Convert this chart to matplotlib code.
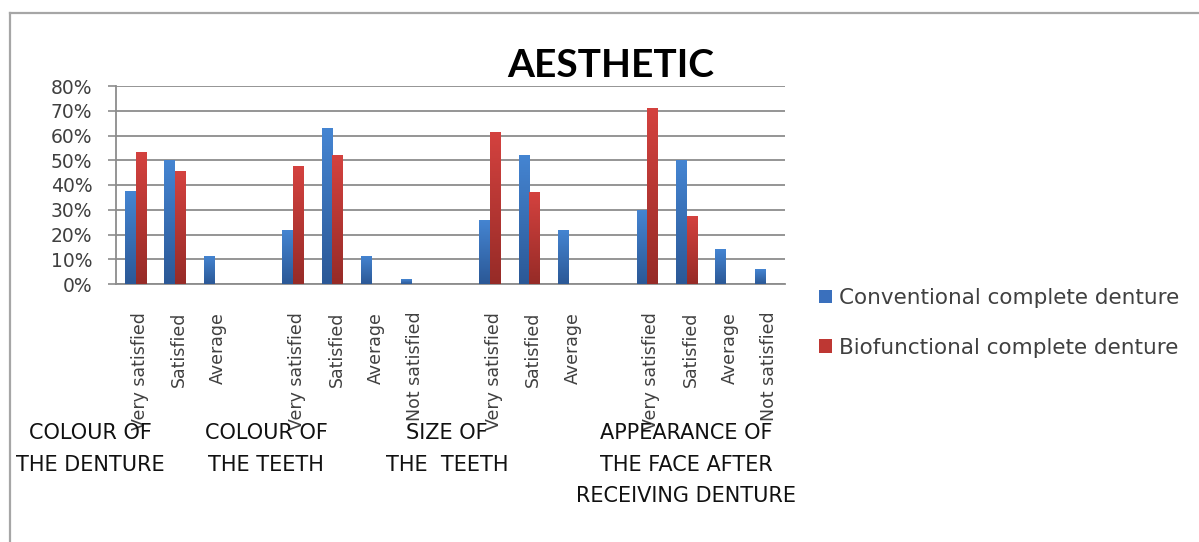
import matplotlib
matplotlib.use("Agg")
import matplotlib.pyplot as plt
import numpy as np
from matplotlib.colors import LinearSegmentedColormap
from matplotlib.patches import Patch
from matplotlib.lines import Line2D

# ---------------- data ----------------
title = "AESTHETIC"
series_names = ["Conventional complete denture", "Biofunctional complete denture"]
groups = ["COLOUR OF\nTHE DENTURE", "COLOUR OF\nTHE TEETH", "SIZE OF\nTHE  TEETH",
          "APPEARANCE OF\nTHE FACE AFTER\nRECEIVING DENTURE"]
group_cats = [
    ["Very satisfied", "Satisfied", "Average"],
    ["Very satisfied", "Satisfied", "Average", "Not satisfied"],
    ["Very satisfied", "Satisfied", "Average"],
    ["Very satisfied", "Satisfied", "Average", "Not satisfied"],
]
conventional = [[37.5, 50, 11.5], [22, 63, 11.5, 2], [26, 52, 22], [30, 50, 14, 6]]
biofunctional = [[53.5, 45.5, 0], [47.5, 52, 0, 0], [61.5, 37, 0], [71, 27.5, 0, 0]]
yticks = [0, 10, 20, 30, 40, 50, 60, 70, 80]

# ---------------- layout ----------------
W, H = 1199, 542
fig = plt.figure(figsize=(W / 100, H / 100), dpi=100)
ax = fig.add_axes([116 / W, 1 - 284 / H, (785 - 116) / W, (284 - 86) / H])

# slot positions: one blank slot between groups
positions, labels, conv_vals, bio_vals = [], [], [], []
pos = 0
for cats, cv, bv in zip(group_cats, conventional, biofunctional):
    for c, a, b in zip(cats, cv, bv):
        positions.append(pos)
        labels.append(c)
        conv_vals.append(a)
        bio_vals.append(b)
        pos += 1
    pos += 1
positions = np.array(positions)

bw = 0.27
cmap_blue = LinearSegmentedColormap.from_list("b", ["#2b5896", "#4585d2"])
cmap_red = LinearSegmentedColormap.from_list("r", ["#962b27", "#d4423f"])
grad = np.linspace(0, 1, 256).reshape(-1, 1)

bars_c = ax.bar(positions - bw / 2, conv_vals, width=bw, color="#3a70bd", zorder=3, linewidth=0)
bars_b = ax.bar(positions + bw / 2, bio_vals, width=bw, color="#be3733", zorder=3, linewidth=0)
for bars, cm in ((bars_c, cmap_blue), (bars_b, cmap_red)):
    for bar in bars:
        h = bar.get_height()
        if h <= 0:
            continue
        x0 = bar.get_x()
        im = ax.imshow(grad, extent=[x0, x0 + bar.get_width(), 0, h], origin="lower",
                       aspect="auto", cmap=cm, zorder=4, interpolation="bilinear")
        im.set_clip_path(bar)

ax.set_xlim(-0.5, positions[-1] + 0.5)
ax.set_ylim(0, 80)
ax.set_yticks(yticks)
ax.set_yticklabels([f"{v}%" for v in yticks], fontsize=13.5, color="#404040")
ax.set_xticks(positions + 0.1)
ax.set_xticklabels(labels, rotation=90, fontsize=12.5, color="#404040", va="top")
ax.tick_params(axis="x", length=0, pad=20)
ax.tick_params(axis="y", length=6, width=1.2, color="#8c8c8c", pad=11)

ax.grid(axis="y", color="#8c8c8c", linewidth=1.3, zorder=0)
ax.set_axisbelow(True)
for s in ("top", "right"):
    ax.spines[s].set_visible(False)
ax.spines["left"].set_color("#8c8c8c")
ax.spines["left"].set_linewidth(1.3)
ax.spines["bottom"].set_color("#8c8c8c")
ax.spines["bottom"].set_linewidth(1.3)

# title
fig.text(611 / W, 1 - 77 / H, title, ha="center", va="baseline", fontsize=28,
         fontweight="bold", family=["Lato", "DejaVu Sans"], color="black")

# group labels (multi-level category axis)
group_x = [90, 266, 447, 686]
for gx, g in zip(group_x, groups):
    fig.text(gx / W, 1 - 423 / H, g, ha="center", va="top", fontsize=15,
             color="#111111", linespacing=1.72)

# legend
handles = [Patch(facecolor="#3a70bd"), Patch(facecolor="#be3733")]
fig.legend(handles, series_names, loc="upper left", bbox_to_anchor=(819 / W, 1 - 288 / H),
           frameon=False, fontsize=15.5, handlelength=0.6, handleheight=0.6,
           handletextpad=0.35, labelspacing=1.38, borderpad=0, borderaxespad=0,
           labelcolor="#404040")

# outer chart frame
fig.add_artist(Line2D([10 / W, 10 / W], [0, 1 - 13 / H], transform=fig.transFigure,
                      color="#a6a6a6", linewidth=1.6))
fig.add_artist(Line2D([10 / W, 1], [1 - 13 / H, 1 - 13 / H], transform=fig.transFigure,
                      color="#a6a6a6", linewidth=1.6))

fig.savefig("out.png", dpi=100)
